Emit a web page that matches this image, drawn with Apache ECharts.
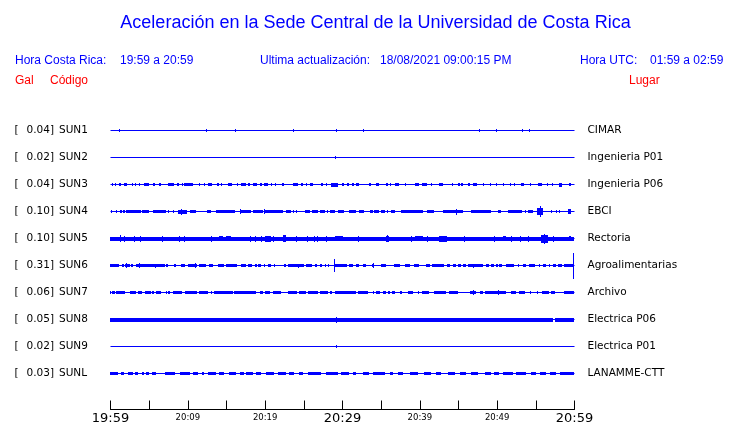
<!DOCTYPE html>
<html><head><meta charset="utf-8">
<script src="https://cdn.jsdelivr.net/npm/echarts@6/dist/echarts.min.js"></script>
<style>html,body{margin:0;padding:0;background:#fff}#c{width:740px;height:423px}</style>
</head><body><div id="c"></div>
<script>
// ---------- data ----------
const codes = ['SUN1','SUN2','SUN3','SUN4','SUN5','SUN6','SUN7','SUN8','SUN9','SUNL'];
const galPeaks = [0.04,0.02,0.04,0.10,0.10,0.31,0.06,0.05,0.02,0.03];
const places = ['CIMAR','Ingenieria P01','Ingenieria P06','EBCI','Rectoria','Agroalimentarias','Archivo','Electrica P06','Electrica P01','LANAMME-CTT'];
const tickLabels = ['19:59','20:04','20:09','20:14','20:19','20:24','20:29','20:34','20:39','20:44','20:49','20:54','20:59'];
const shownLabels = ['19:59','20:09','20:19','20:29','20:39','20:49','20:59'];
const largeLabels = ['19:59','20:29','20:59'];
const bandAmp = [1.5,1.5,1.5,1.5,2,1.5,1.5,2,1.5,1.5];

// envelope segments per trace: [startMinute, endMinute, (amplitude)]
const seg_SUN1 = [];
const seg_SUN2 = [];
const seg_SUN3 = [[0.2,0.4],[0.6,0.8],[1.2,1.4],[1.8,2.2],[2.8,3.0],[3.2,3.4],[3.7,3.9],[4.4,5.1],[5.6,5.8],[6.4,6.6],[7.5,8.3],[8.7,8.9],[9.3,9.5],[9.6,10.7],[11.5,11.7],[12.1,12.3],[12.7,13.2],[13.9,14.1],[14.3,14.5],[15.2,15.8],[16.4,16.6],[17.0,17.6],[17.9,18.1],[18.5,19.0],[19.4,19.6],[19.9,20.4],[20.8,21.0],[21.3,21.5],[22.3,22.5],[23.6,24.3],[24.7,24.9],[25.3,25.5],[25.8,26.3],[27.3,27.5],[27.9,28.1],[28.6,29.5,2],[30.0,30.2],[30.7,30.9],[31.3,31.5],[31.8,32.2],[33.5,33.7],[34.4,34.8],[35.7,35.9],[36.2,36.4],[36.9,37.4],[38.1,38.3],[39.5,39.9],[40.4,41.0],[41.5,41.7],[42.5,43.0],[44.2,44.4],[45.0,45.2],[45.4,45.6],[46.3,46.5],[47.0,47.5],[48.2,48.4],[49.1,49.3],[49.9,50.1],[50.8,51.0],[51.7,51.9],[52.2,52.4],[53.1,53.5],[54.3,54.5],[55.4,55.8],[56.5,56.7],[57.1,57.3],[58.1,58.5,2],[59.4,59.6]];
const seg_SUN4 = [[0.1,0.25],[0.8,0.95],[1.35,1.5],[1.65,1.95],[2.1,3.95],[4.1,5.1],[5.55,7.25],[7.45,7.6],[8.1,8.25],[8.75,10.0,2],[10.4,11.15],[12.55,13.0],[13.75,16.2],[16.95,18.25],[18.45,19.75],[20.0,22.35],[22.8,23.45],[23.6,23.75],[24.05,24.2],[25.25,25.8],[26.1,26.9],[27.1,27.75],[28.05,28.2],[28.4,29.05],[29.45,30.3],[30.95,31.75],[32.25,32.9],[33.65,34.0],[34.2,34.75],[35.05,35.5],[35.8,35.95],[36.35,36.8],[37.65,38.1],[38.2,38.75],[38.8,40.45],[40.95,41.85],[43.05,45.7],[46.7,49.3],[50.15,50.6],[51.45,53.3],[53.6,53.75],[54.05,54.75],[55.2,55.95,3.5],[57.05,57.2],[57.7,57.85],[58.1,58.25],[59.2,59.65,2.5]];
const seg_SUN5 = [[0,60],[14.15,14.6,2.5],[15.0,15.6,2.5],[20.0,20.85,3],[22.35,22.8,3.5],[29.05,30.1,2.5],[35.7,36.05,3],[39.5,40.45,2.5],[42.6,43.55,3],[50.8,51.15,2.5],[55.75,56.6,4],[59.35,59.65,2.5]];
const seg_SUN6 = [[0,1.1],[1.55,1.85],[1.95,2.65],[2.75,2.95],[3.4,7.05],[7.25,7.55],[8.25,8.55],[9.2,9.65],[10.15,11.25],[11.5,12.45],[12.75,13.3],[13.95,14.7],[15.0,16.45],[16.95,17.6],[17.9,18.35],[18.7,19.05],[19.2,19.55],[19.85,20.0],[20.4,20.85],[21.25,21.4],[22.55,22.7],[23.0,25.05],[25.35,26.1],[26.45,26.8],[27.2,27.35],[27.75,27.9],[28.15,28.3],[29.05,30.65],[30.95,31.4],[31.85,32.2],[32.7,33.05],[33.9,34.2],[35.05,35.7],[36.7,37.45],[38.2,38.75],[39.25,40.0],[40.9,41.4],[41.65,43.25],[43.55,44.0],[44.35,44.75],[45.0,45.4],[45.65,46.05],[46.25,48.2],[48.65,49.0],[49.3,49.7],[49.95,50.15],[50.35,50.65],[51.25,52.3],[52.75,52.95],[53.4,53.8],[54.15,54.9],[55.5,55.65],[56.05,56.4],[56.75,56.9],[57.25,57.7],[57.9,58.45],[58.75,60.0]];
const seg_SUN7 = [[0,0.15],[0.25,0.6],[0.8,1.95],[2.65,3.4],[3.6,4.1],[4.55,5.25],[5.4,5.75],[5.95,6.55],[7.25,7.4],[7.55,7.7],[8.15,9.3],[9.65,11.25],[11.55,12.65],[13.0,13.15],[13.45,15.9],[16.0,18.9],[19.45,19.75],[20.0,20.65],[21.05,22.15],[23.0,24.2],[24.5,25.35],[25.65,26.9],[27.2,28.15],[28.5,28.65],[29.05,31.75],[32.05,33.35],[34.0,34.15],[34.35,34.95],[35.3,35.65],[35.95,36.25],[36.5,36.8],[37.45,37.8],[38.5,39.15],[39.8,40.0],[40.35,41.25],[41.9,43.45],[43.9,45.0],[46.5,47.35],[47.8,48.2],[48.45,51.25],[51.9,52.45],[52.95,53.6],[54.35,54.5],[55.2,55.35],[55.9,56.75],[57.05,57.5],[58.75,60.0]];
const seg_SUN8 = [[0,57.25],[57.6,60]];
const seg_SUN9 = [];
const seg_SUNL = [[0,1.0],[1.45,1.85],[2.3,2.95],[3.25,3.6],[4.1,4.4],[4.7,5.1],[5.4,5.95],[7.05,8.35],[9.0,10.3],[10.7,11.35],[11.9,12.2],[12.65,13.75],[14.15,14.8],[15.45,16.3],[16.75,17.3],[17.6,18.45],[18.9,19.55],[20.2,21.25],[21.7,22.8],[23.2,23.85],[24.5,24.95],[25.6,27.3],[27.95,29.45],[29.9,30.95],[31.4,31.85],[32.7,33.55],[34.0,35.5],[36.15,36.55],[37.2,37.85],[38.75,39.8],[40.65,41.55],[42.2,42.8],[43.7,44.55],[45.2,46.05],[46.7,47.55],[48.45,49.3],[49.7,50.35],[50.8,52.1],[52.5,53.8],[54.45,55.1],[55.55,56.4],[56.85,57.7],[58.15,60.0]];

// single-sample peaks per trace: [minute, amplitude]
const spk_SUN1 = [[1.14,1.5],[12.39,1.5],[16.14,1.5],[23.69,1.5],[29.2,1.5],[32.69,1.5],[47.69,1.5],[49.94,1.5],[53.25,1.5],[54.15,1.5]];
const spk_SUN2 = [[29.07,1.5]];
const spk_SUN3 = [];
const spk_SUN4 = [[9.2,3],[16.75,2.5],[19.85,2.5],[44.7,3],[55.55,5.5]];
const spk_SUN5 = [[1.23,3.5],[1.79,3],[3.08,3],[3.94,3],[6.7,3],[8.86,3],[9.55,3],[13.0,3],[18.04,3],[18.77,3],[19.55,3],[21.05,3],[24.07,3],[25.5,3],[26.35,3],[26.79,3],[27.95,3],[32.05,3],[35.84,3.5],[38.95,3],[40.97,3],[45.75,3],[49.63,3],[51.88,3],[53.08,3],[54.03,3],[56.1,5],[57.26,3]];
const spk_SUN6 = [[2.13,2.5],[3.73,2.5],[5.84,2],[10.93,2.5],[24.3,2],[28.94,6.5],[33.98,2.5],[46.9,2],[59.85,13]];
const spk_SUN7 = [[46.9,2.5],[50.15,2.5]];
const spk_SUN8 = [[29.2,3]];
const spk_SUN9 = [[29.16,1.5]];
const spk_SUNL = [];

// ---------- build ----------
const AMP_PER_TRACE = 27; // amplitude units per trace spacing
const segs = [seg_SUN1,seg_SUN2,seg_SUN3,seg_SUN4,seg_SUN5,seg_SUN6,seg_SUN7,seg_SUN8,seg_SUN9,seg_SUNL];
const spks = [spk_SUN1,spk_SUN2,spk_SUN3,spk_SUN4,spk_SUN5,spk_SUN6,spk_SUN7,spk_SUN8,spk_SUN9,spk_SUNL];
const segData = [], spkData = [];
segs.forEach((list,k)=>list.forEach(s=>segData.push([s[0], s[1], k, s.length>2?s[2]:bandAmp[k]])));
spks.forEach((list,k)=>list.forEach(s=>spkData.push([s[0], k, s[1]])));

const BLUE = '#0000ff';
const FONT = 'DejaVu Sans';
const HFONT = 'Liberation Sans';

const baseSeries = codes.map((c,k)=>({
  type:'line', name:c, data:[[0,k],[60,k]], symbol:'none', silent:true,
  lineStyle:{color:BLUE,width:1}, animation:false, xAxisIndex:0, yAxisIndex:0
}));

const segSeries = {
  type:'custom', data:segData, silent:true, animation:false, xAxisIndex:0, yAxisIndex:0, clip:false,
  renderItem(params, api){
    const s=api.value(0), e=api.value(1), k=api.value(2), a=api.value(3)/AMP_PER_TRACE;
    const p1=api.coord([s,k-a]), p2=api.coord([e,k+a]);
    const x1=Math.floor(p1[0]), x2=Math.max(Math.floor(p2[0]), x1+1);
    const y1=Math.round(Math.min(p1[1],p2[1])), y2=Math.round(Math.max(p1[1],p2[1]));
    return {type:'rect', shape:{x:x1,y:y1,width:x2-x1,height:y2-y1}, style:{fill:BLUE}};
  }
};
const spkSeries = {
  type:'custom', data:spkData, silent:true, animation:false, xAxisIndex:0, yAxisIndex:0, clip:false,
  renderItem(params, api){
    const t=api.value(0), k=api.value(1), a=api.value(2)/AMP_PER_TRACE;
    const p1=api.coord([t,k-a]), p2=api.coord([t,k+a]);
    const x=Math.floor(p1[0]);
    const y1=Math.round(Math.min(p1[1],p2[1])), y2=Math.round(Math.max(p1[1],p2[1]));
    return {type:'rect', shape:{x:x,y:y1,width:1,height:y2-y1}, style:{fill:BLUE}};
  }
};

const catBase = {type:'category', inverse:true, position:'left', axisLine:{show:false}, axisTick:{show:false}, splitLine:{show:false}};
const lab = {fontFamily:FONT, fontSize:10.5, color:'#000', interval:0};
const hdr = (text, x, y, color, extra) => ({type:'text', x:x, y:y, style:Object.assign({text:text, font:'12px "'+HFONT+'"', fill:color, verticalAlign:'middle'}, extra||{})});

const chart = echarts.init(document.getElementById('c'), null, {renderer:'canvas'});
chart.setOption({
  animation:false,
  backgroundColor:'#fff',
  grid:{left:110.5, width:464, top:117, height:270, containLabel:false, outerBoundsMode:'none'},
  xAxis:{
    type:'value', min:0, max:60, interval:5, offset:22.5,
    axisLine:{onZero:false, lineStyle:{color:'#000',width:1}},
    axisTick:{inside:true,length:9,lineStyle:{color:'#000',width:1}},
    splitLine:{show:false},
    axisLabel:{
      margin:3,
      formatter:(v)=>{
        const lbl = tickLabels[Math.round(v/5)];
        if(shownLabels.indexOf(lbl)<0) return '';
        return largeLabels.indexOf(lbl)>=0 ? '{big|'+lbl+'}' : '{small|'+lbl+'}';
      },
      rich:{
        big:{fontFamily:FONT,fontSize:13,color:'#000',lineHeight:13},
        small:{fontFamily:FONT,fontSize:8.5,color:'#000',lineHeight:11}
      }
    }
  },
  yAxis:[
    {type:'value', min:-0.5, max:9.5, inverse:true, show:false},
    Object.assign({}, catBase, {data:codes, axisLabel:Object.assign({}, lab, {formatter:()=>'[', align:'left', margin:96})}),
    Object.assign({}, catBase, {data:galPeaks.map(v=>v.toFixed(2)+']'), axisLabel:Object.assign({}, lab, {align:'right', margin:56.5})}),
    Object.assign({}, catBase, {data:codes, axisLabel:Object.assign({}, lab, {align:'left', margin:51.5})}),
    Object.assign({}, catBase, {position:'right', data:places, axisLabel:Object.assign({}, lab, {align:'left', margin:13})})
  ],
  graphic:[
    {type:'text', x:375.5, y:23, style:{text:'Aceleración en la Sede Central de la Universidad de Costa Rica', font:'18px "'+HFONT+'"', fill:BLUE, align:'center', verticalAlign:'middle'}},
    hdr('Hora Costa Rica:', 15, 61, BLUE),
    hdr(tickLabels[0]+' a '+tickLabels[tickLabels.length-1], 120, 61, BLUE),
    hdr('Ultima actualización:', 260, 61, BLUE),
    hdr('18/08/2021 09:00:15 PM', 380, 61, BLUE),
    hdr('Hora UTC:', 580, 61, BLUE),
    hdr('01:59 a 02:59', 650, 61, BLUE),
    hdr('Gal', 15, 81, '#ff0000'),
    hdr('Código', 50, 81, '#ff0000'),
    hdr('Lugar', 629, 81, '#ff0000')
  ],
  series: baseSeries.concat([segSeries, spkSeries])
});
</script>
</body></html>
